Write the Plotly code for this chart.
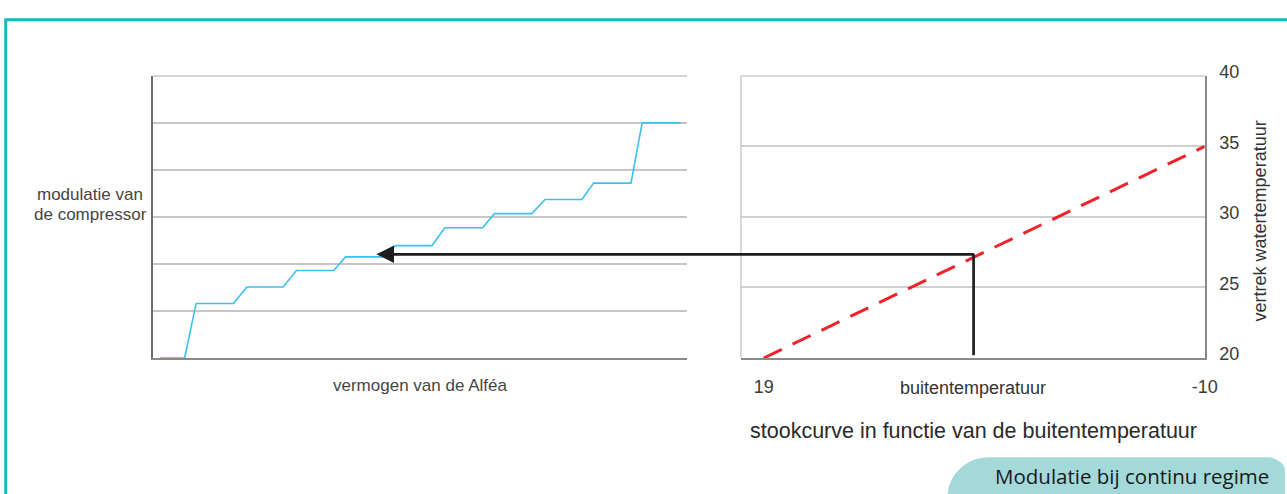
import plotly.graph_objects as go

# ---------------- data ----------------
# left chart: compressor modulation vs. power (arbitrary units)
power = [1.2, 5.85, 8.0, 15.0, 17.5, 24.3, 26.8, 33.8, 36.0, 43.2, 45.3, 52.2,
         54.6, 61.7, 63.9, 70.9, 73.4, 80.3, 82.5, 89.5, 91.6, 98.8]
modulation = [0, 0, 11.6, 11.6, 15.1, 15.1, 18.6, 18.6, 21.5, 21.5, 23.9, 23.9,
              27.7, 27.7, 30.7, 30.7, 33.7, 33.7, 37.2, 37.2, 50, 50]
mod_grid = [0, 10, 20, 30, 40, 50, 60]

# right chart: heating curve
outdoor_temp = [19, -10]
flow_temp = [20, 35]
temp_ticks = [19, -10]
temp_tick_text = ["19", "-10"]
flow_ticks = [20, 25, 30, 35, 40]

# operating point
op_outdoor = 5.2
op_flow = 27.35
op_flow_floor = 20.2
arrow_tip_power = 41.8

# ---------------- geometry ----------------
W, H = 1287, 494
def px(x): return x / W
def py(y): return 1 - y / H

LX0, LX1 = 155, 694
RX0, RX1 = 748.5, 1217
YT, YB = 64.5, 358.5
power_range = [0, 100]
mod_range = [0, 60]
temp_range = [20.5, -10]
flow_range = [20, 40]

FONT = "Liberation Sans, Arial, sans-serif"
LAB = "#454545"

fig = go.Figure()

fig.add_trace(go.Scatter(x=power, y=modulation, mode="lines",
                         line=dict(color="#3cc0f0", width=1.6),
                         xaxis="x", yaxis="y", hoverinfo="skip"))
fig.add_trace(go.Scatter(x=outdoor_temp, y=flow_temp, mode="lines",
                         line=dict(color="#f2222c", width=3, dash="20px,12px"),
                         xaxis="x2", yaxis="y2", hoverinfo="skip"))
fig.add_trace(go.Scatter(x=[op_outdoor, op_outdoor], y=[op_flow_floor, op_flow],
                         mode="lines", line=dict(color="#1e1e1e", width=2.7),
                         xaxis="x2", yaxis="y2", hoverinfo="skip"))

# convert operating point of right chart into left-chart units for the arrow
tail_px = RX0 + (temp_range[0] - op_outdoor) / (temp_range[0] - temp_range[1]) * (RX1 - RX0) + 1
tail_power = power_range[0] + (tail_px - LX0) / (LX1 - LX0) * (power_range[1] - power_range[0])
arrow_mod = mod_range[0] + (op_flow - flow_range[0]) / (flow_range[1] - flow_range[0]) * (mod_range[1] - mod_range[0])

annotations = [
    dict(x=arrow_tip_power, y=arrow_mod, xref="x", yref="y",
         ax=tail_power, ay=arrow_mod, axref="x", ayref="y",
         text="", showarrow=True, arrowhead=2, arrowsize=1.3,
         arrowwidth=2.7, arrowcolor="#1e1e1e", standoff=0, borderpad=0),
    dict(x=px(91), y=py(188.5), xref="paper", yref="paper", xanchor="center",
         yanchor="middle", showarrow=False, text="modulatie van",
         font=dict(family=FONT, size=17, color=LAB)),
    dict(x=px(91), y=py(209.3), xref="paper", yref="paper", xanchor="center",
         yanchor="middle", showarrow=False, text="de compressor",
         font=dict(family=FONT, size=17, color=LAB)),
    dict(x=px(424), y=py(386.7), xref="paper", yref="paper", xanchor="center",
         yanchor="middle", showarrow=False, text="vermogen van de Alféa",
         font=dict(family=FONT, size=17, color=LAB)),
    dict(x=px(983), y=py(389.8), xref="paper", yref="paper", xanchor="center",
         yanchor="middle", showarrow=False, text="buitentemperatuur",
         font=dict(family=FONT, size=18, color="#333333")),
    dict(x=px(1272.5), y=py(215.5), xref="paper", yref="paper", xanchor="center",
         yanchor="middle", showarrow=False, text="vertrek watertemperatuur",
         textangle=-90, font=dict(family=FONT, size=18, color="#333333")),
    dict(x=px(983), y=py(434.4), xref="paper", yref="paper", xanchor="center",
         yanchor="middle", showarrow=False,
         text="stookcurve in functie van de buitentemperatuur",
         font=dict(family=FONT, size=21.5, color="#2a2a2a")),
    dict(x=px(1144), y=py(481), xref="paper", yref="paper", xanchor="center",
         yanchor="middle", showarrow=False, text="Modulatie bij continu regime",
         font=dict(family="Open Sans, Noto Sans, sans-serif", size=20.5, color="#1a1a1a")),
]

# frame and badge
fy = py(6)
fx = px(5.8)
frame = dict(type="path", xref="paper", yref="paper",
             path=f"M 1.02,{fy} L {fx},{fy} L {fx},-0.05",
             line=dict(color="#16baba", width=3))

bx0, btop, r = 957, 462, 42
k = 0.5523
badge_path = (f"M {px(bx0)},{py(540)} L {px(bx0)},{py(btop + r)} "
              f"C {px(bx0)},{py(btop + r - k * r)} {px(bx0 + r - k * r)},{py(btop)} {px(bx0 + r)},{py(btop)} "
              f"L {px(1282)},{py(btop)} "
              f"C {px(1287)},{py(btop)} {px(1297)},{py(btop + 6)} {px(1298)},{py(btop + 12)} "
              f"L {px(1298)},{py(540)} Z")
badge = dict(type="path", xref="paper", yref="paper", path=badge_path,
             fillcolor="#a3d9d9", line=dict(width=0), layer="below")

right_left_edge = dict(type="line", xref="x2 domain", yref="y2 domain",
                       x0=0, x1=0, y0=0, y1=1,
                       line=dict(color="#cccccc", width=1.5))
left_top = dict(type="line", xref="x domain", yref="y domain",
                x0=0, x1=1, y0=1, y1=1, line=dict(color="#c6c6c6", width=1.5))
right_top = dict(type="line", xref="x2 domain", yref="y2 domain",
                 x0=0, x1=1, y0=1, y1=1, line=dict(color="#cfcfcf", width=1.5))

fig.update_layout(
    width=W, height=H, autosize=False,
    margin=dict(l=0, r=0, t=0, b=0, pad=0),
    paper_bgcolor="white", plot_bgcolor="rgba(0,0,0,0)",
    showlegend=False,
    font=dict(family=FONT, size=17, color=LAB),
    xaxis=dict(domain=[px(LX0), px(LX1)], range=power_range, anchor="y",
               showgrid=False, zeroline=False, showticklabels=False,
               showline=True, linecolor="#8a8a8a", linewidth=2, fixedrange=True),
    yaxis=dict(domain=[py(YB), py(YT)], range=mod_range, anchor="x",
               tickvals=mod_grid, showticklabels=False, showgrid=True,
               gridcolor="#c6c6c6", gridwidth=1.5, zeroline=False,
               showline=True, linecolor="#6b6b6b", linewidth=2, fixedrange=True),
    xaxis2=dict(domain=[px(RX0), px(RX1)], range=temp_range, anchor="y2",
                tickvals=temp_ticks, ticktext=temp_tick_text, ticks="",
                ticklabelstandoff=11,
                tickfont=dict(family=FONT, size=18, color="#3a3a3a"),
                showgrid=False, zeroline=False, showline=True,
                linecolor="#8a8a8a", linewidth=2, fixedrange=True),
    yaxis2=dict(domain=[py(YB), py(YT)], range=flow_range, anchor="x2",
                side="right", tickvals=flow_ticks, ticks="",
                ticklabelstandoff=9, ticklabelshift=-4,
                tickfont=dict(family=FONT, size=18, color="#3a3a3a"),
                showgrid=True, gridcolor="#cfcfcf", gridwidth=1.5,
                zeroline=False, showline=True, linecolor="#8a8a8a",
                linewidth=2, fixedrange=True),
    shapes=[badge, frame, right_left_edge, left_top, right_top],
    annotations=annotations,
)

post = ("document.documentElement.style.margin='0';"
        "document.documentElement.style.overflow='hidden';"
        "document.body.style.margin='0';document.body.style.padding='0';"
        "document.body.style.overflow='hidden';"
        "var gd=document.getElementById('{plot_id}');"
        "gd.style.position='fixed';gd.style.left='0px';gd.style.top='0px';"
        "Plotly.relayout(gd,{width:%d,height:%d});" % (W, H))

fig.write_html("out.html", config={"responsive": False, "displayModeBar": False},
               post_script=post)
